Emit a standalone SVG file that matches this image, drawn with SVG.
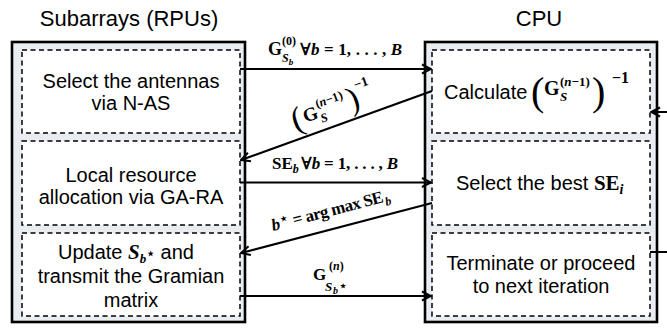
<svg xmlns="http://www.w3.org/2000/svg" width="667" height="332" viewBox="0 0 667 332">
<style>
.s{font-family:"Liberation Sans",Arial,sans-serif;font-size:20px;fill:#000;text-anchor:middle}
.st{font-family:"Liberation Sans",Arial,sans-serif;font-size:22px;fill:#000;text-anchor:middle}
.m{font-family:"Liberation Serif","DejaVu Serif","Times New Roman",serif;font-weight:bold;fill:#000}
.i{font-style:italic}
.star{font-family:"DejaVu Sans",sans-serif;font-weight:bold;font-style:normal}
.outer{fill:#e9ecf1;stroke:#000;stroke-width:2.6}
.inner{fill:#fff;stroke:#000;stroke-width:1.5;stroke-dasharray:5 3.5}
.c{fill:none;stroke:#000;stroke-width:2.2}
</style>
<defs>
<marker id="ah" viewBox="-1 -1 12 12" refX="10" refY="5" markerWidth="12" markerHeight="12" markerUnits="userSpaceOnUse" orient="auto">
<path d="M1,0.5 L10,5 L1,9.5" fill="none" stroke="#000" stroke-width="2"/>
</marker>
</defs>

<text class="st" x="129" y="26">Subarrays (RPUs)</text>
<text class="st" x="539" y="26">CPU</text>

<g id="rpu">
<rect class="outer" x="12" y="42" width="233" height="280"/>
<g id="n-as">
<rect class="inner" x="22" y="50" width="218" height="83"/>
<text class="s" x="131" y="88">Select the antennas</text>
<text class="s" x="131" y="110">via N-AS</text>
</g>
<g id="ga-ra">
<rect class="inner" x="22" y="141" width="218" height="84"/>
<text class="s" x="131" y="181.5">Local resource</text>
<text class="s" x="131" y="203.5">allocation via GA-RA</text>
</g>
<g id="update">
<rect class="inner" x="22" y="233" width="218" height="83"/>
<text class="s" x="58" y="259" style="text-anchor:start">Update <tspan class="m i" font-size="21">S</tspan><tspan class="m i" font-size="13" dy="4">b</tspan><tspan class="star" font-size="14" dy="-5">⋆</tspan><tspan dy="1"> and</tspan></text>
<text class="s" x="131" y="283">transmit the Gramian</text>
<text class="s" x="131" y="307">matrix</text>
</g>
</g>

<g id="cpu">
<rect class="outer" x="425" y="42" width="232" height="280"/>
<g id="calc">
<rect class="inner" x="432" y="50" width="218" height="83"/>
<text class="s" x="444" y="99" style="text-anchor:start">Calculate</text>
<text class="m" font-size="20"><tspan x="531" y="105" font-size="40" font-weight="normal">(</tspan><tspan x="544" y="95">G</tspan><tspan x="560" y="86" font-size="13">(<tspan class="i">n</tspan>−1)</tspan><tspan x="560" y="101" font-size="13" class="i">S</tspan><tspan x="592" y="105" font-size="40" font-weight="normal">)</tspan><tspan x="612" y="83" font-size="16">−1</tspan></text>
</g>
<g id="best">
<rect class="inner" x="432" y="141" width="218" height="84"/>
<text class="s" x="456" y="190" style="text-anchor:start">Select the best <tspan class="m" font-size="21">SE</tspan><tspan class="m i" font-size="14" dy="4">i</tspan></text>
</g>
<g id="term">
<rect class="inner" x="432" y="233" width="218" height="83"/>
<text class="s" x="541" y="270">Terminate or proceed</text>
<text class="s" x="541" y="293">to next iteration</text>
</g>
</g>

<g id="connectors">
<path class="c" d="M240,69 H431" marker-end="url(#ah)"/>
<path class="c" d="M432,91 L241,160" marker-end="url(#ah)"/>
<path class="c" d="M240,182.5 H431" marker-end="url(#ah)"/>
<path class="c" d="M432,203 L241,253" marker-end="url(#ah)"/>
<path class="c" d="M240,296 H431" marker-end="url(#ah)"/>
<path class="c" d="M650,252 H674 V112 H651" marker-end="url(#ah)"/>

<text class="m" font-size="18"><tspan x="268" y="55">G</tspan><tspan x="282" y="45" font-size="12">(0)</tspan><tspan x="282" y="62" font-size="12" class="i">S</tspan><tspan y="65" font-size="9" class="i">b</tspan></text>
<text class="m" font-size="17" x="300" y="55" textLength="102">∀<tspan class="i">b</tspan> = 1, . . . , <tspan class="i">B</tspan></text>

<g transform="translate(294,127) rotate(-19.8) scale(1.12)">
<text class="m" font-size="17"><tspan x="0" y="4" font-size="30" font-weight="normal">(</tspan><tspan x="11" y="0">G</tspan><tspan x="25" y="-9" font-size="11">(<tspan class="i">n</tspan>−1)</tspan><tspan x="25" y="5" font-size="11" class="i">S</tspan><tspan x="53" y="4" font-size="30" font-weight="normal">)</tspan><tspan x="63" y="-13" font-size="12">−1</tspan></text>
</g>

<text class="m" font-size="17"><tspan x="272" y="169">SE</tspan><tspan font-size="12" class="i" dy="4">b</tspan></text>
<text class="m" font-size="17" x="301" y="169" textLength="97">∀<tspan class="i">b</tspan> = 1, . . . , <tspan class="i">B</tspan></text>

<g transform="translate(273,231) rotate(-14.6)">
<text class="m i" font-size="17" x="0" y="0">b</text>
<text class="star" font-size="14" x="9" y="-5">⋆</text>
<text class="m" font-size="17" x="22" y="0" textLength="93">= arg max SE</text>
<text class="m i" font-size="12" x="116" y="4">b</text>
</g>

<text class="m" font-size="17" x="313" y="280">G</text>
<text class="m" font-size="12" x="329" y="270">(<tspan class="i">n</tspan>)</text>
<text class="m i" font-size="13" x="325" y="291">S</text>
<text class="m i" font-size="10" x="333" y="294">b</text>
<text class="star" font-size="13" x="339" y="290">⋆</text>
</g>
</svg>
